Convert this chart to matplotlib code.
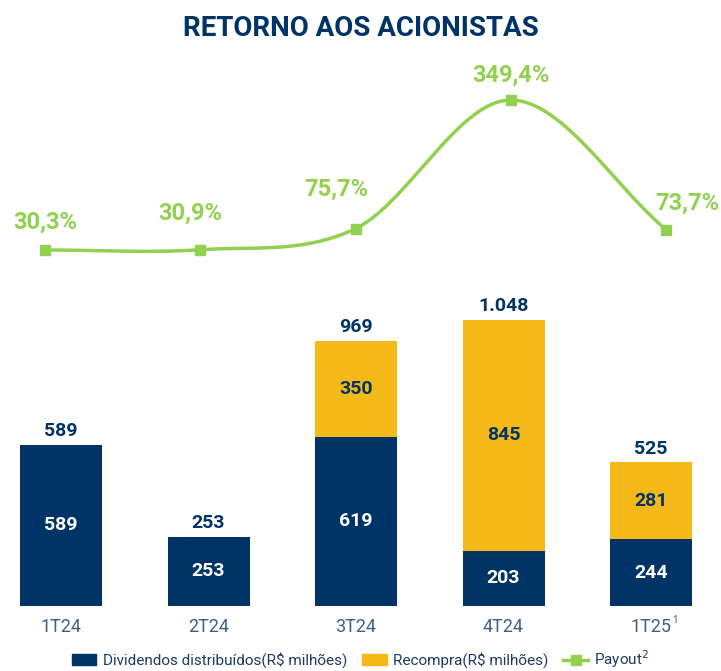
import numpy as np
import matplotlib
matplotlib.use("Agg")
import matplotlib.pyplot as plt
from matplotlib.lines import Line2D
from matplotlib.patches import Patch

quarters = ["1T24", "2T24", "3T24", "4T24", "1T25"]
tick_labels = ["1T24", "2T24", "3T24", "4T24", "1T25"]
tick_sup = ["", "", "", "", "1"]
dividends = [589, 253, 619, 203, 244]
buyback = [0, 0, 350, 845, 281]
totals = [589, 253, 969, 1048, 525]
total_labels = ["589", "253", "969", "1.048", "525"]
payout = [30.3, 30.9, 75.7, 349.4, 73.7]
payout_labels = ["30,3%", "30,9%", "75,7%", "349,4%", "73,7%"]

NAVY = "#003366"
YELLOW = "#F5B919"
GREEN = "#92D050"

plt.rcParams['font.family'] = ['Roboto', 'DejaVu Sans']

W, H = 721, 671
fig = plt.figure(figsize=(W / 100, H / 100), dpi=100)

# bar axes
bottom_px = 606
ax = fig.add_axes([0, (H - bottom_px) / H, 1, bottom_px / H])
x = np.arange(len(quarters))
sp = 147.5
ax.set_xlim((0 - 61) / sp, (W - 61) / sp)
ppu = 161 / 589
ax.set_ylim(0, bottom_px / ppu)
bw = 82 / sp
ax.bar(x, dividends, width=bw, color=NAVY)
ax.bar(x, buyback, width=bw, bottom=dividends, color=YELLOW)
for i in range(len(x)):
    ax.text(x[i], dividends[i] / 2, str(dividends[i]), ha='center', va='center',
            color='white', fontsize=14, fontweight='bold')
    if buyback[i] > 0:
        ax.text(x[i], dividends[i] + buyback[i] / 2, str(buyback[i]), ha='center',
                va='center', color=NAVY, fontsize=14, fontweight='bold')
    ax.text(x[i], totals[i] + 18, total_labels[i], ha='center', va='bottom',
            color=NAVY, fontsize=14, fontweight='bold')
for s in ax.spines.values():
    s.set_visible(False)
ax.set_yticks([])
ax.set_xticks([])
for i, lab in enumerate(tick_labels):
    ax.annotate(lab, (x[i], 0), xytext=(0, -15), textcoords='offset points',
                ha='center', va='center', color='#3F5F85', fontsize=13,
                annotation_clip=False)
    if tick_sup[i]:
        ax.annotate(tick_sup[i], (x[i], 0), xytext=(15, -10), textcoords='offset points',
                    ha='left', va='center', color='#3F5F85', fontsize=7,
                    annotation_clip=False)

# line axes
lsp = 155.25
lax = fig.add_axes([0, (H - bottom_px) / H, 1, bottom_px / H], facecolor='none')
lax.set_xlim((0 - 45) / lsp, (W - 45) / lsp)
lppu = 150 / (349.4 - 30.3)
base = 30.3 - (bottom_px - 250) / lppu
lax.set_ylim(base, base + bottom_px / lppu)
lax.axis('off')

# smooth rendering curve (Catmull-Rom through the data points)
px = x.astype(float)
py = np.array(payout, dtype=float)
cx, cy = [], []
P = np.vstack([px, py]).T
Pext = np.vstack([P[0] - (P[1] - P[0]), P, P[-1] + (P[-1] - P[-2])])
t = np.linspace(0, 1, 40)
for k in range(1, len(Pext) - 2):
    p0, p1, p2, p3 = Pext[k - 1], Pext[k], Pext[k + 1], Pext[k + 2]
    for tt in t:
        pt = 0.5 * ((2 * p1) + (-p0 + p2) * tt + (2 * p0 - 5 * p1 + 4 * p2 - p3) * tt ** 2
                    + (-p0 + 3 * p1 - 3 * p2 + p3) * tt ** 3)
        cx.append(pt[0]); cy.append(pt[1])
lax.plot(cx, cy, color=GREEN, lw=2.5, solid_capstyle='round')
lax.plot(px, py, linestyle='none', marker='s', markersize=7, color=GREEN)
offs = [(0, 20), (-7, 26), (-14, 28), (0, 18), (15, 19)]
for i, lab in enumerate(payout_labels):
    lax.annotate(lab, (px[i], py[i]), xytext=offs[i], textcoords='offset points',
                 ha='center', va='center', color=GREEN, fontsize=17, fontweight='bold')

fig.text(0.5, 1 - 29 / H, "RETORNO AOS ACIONISTAS", ha='center', va='center',
         color=NAVY, fontsize=20, fontweight='bold')

handles = [Patch(color=NAVY), Patch(color=YELLOW),
           Line2D([0], [0], color=GREEN, lw=2.5, marker='s', markersize=7)]
labels = ["Dividendos distribuídos(R$ milhões)", "Recompra(R$ milhões)", "Payout$^{2}$"]
leg = fig.legend(handles, labels, loc='center', bbox_to_anchor=(0.5, 1 - 659 / H),
                 ncol=3, frameon=False, fontsize=11, handlelength=1.6, handletextpad=0.4,
                 columnspacing=1.0, labelcolor='#1F3A5F')

fig.savefig("out.png", dpi=100)
